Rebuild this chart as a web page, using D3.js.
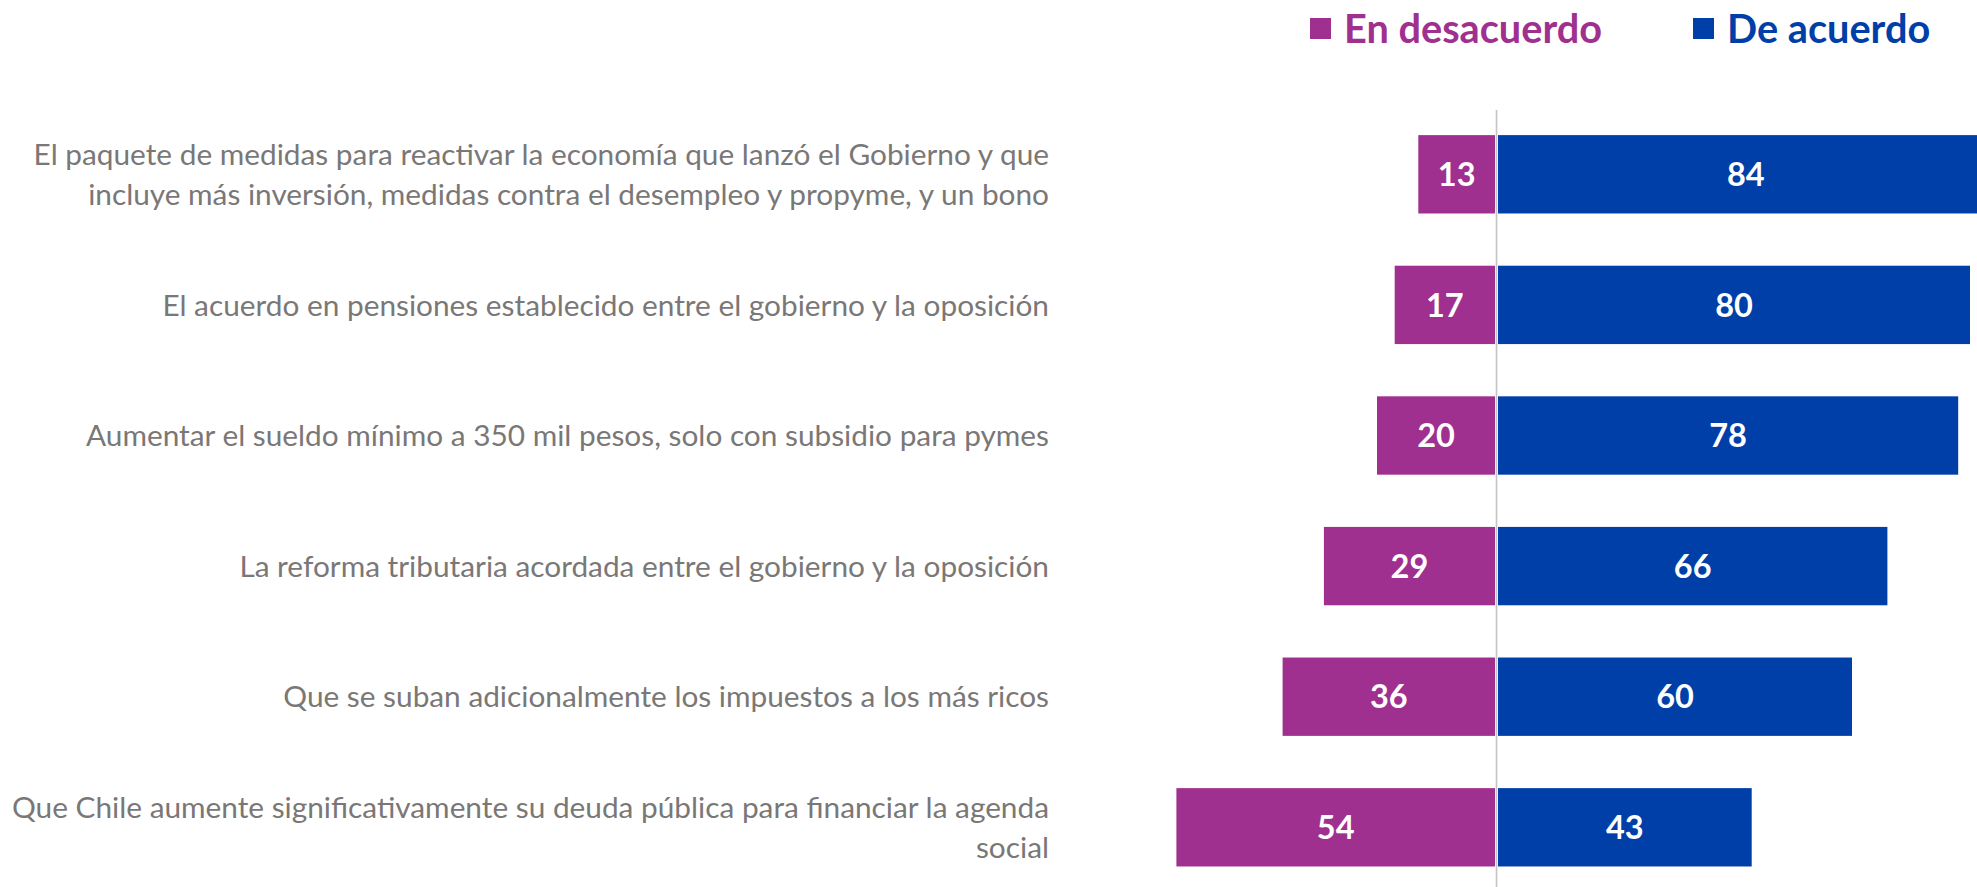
<!DOCTYPE html>
<html>
<head>
<meta charset="utf-8">
<script src="https://cdn.jsdelivr.net/npm/d3@7"></script>
<style>
  html, body { margin: 0; padding: 0; background: #fff; overflow: hidden; }
  svg { display: block; }
</style>
</head>
<body>
<div id="chart"></div>
<script>
// data
const categories = [
  ["El paquete de medidas para reactivar la economía que lanzó el Gobierno y que",
   "incluye más inversión, medidas contra el desempleo y propyme, y un bono"],
  ["El acuerdo en pensiones establecido entre el gobierno y la oposición"],
  ["Aumentar el sueldo mínimo a 350 mil pesos, solo con subsidio para pymes"],
  ["La reforma tributaria acordada entre el gobierno y la oposición"],
  ["Que se suban adicionalmente los impuestos a los más ricos"],
  ["Que Chile aumente significativamente su deuda pública para financiar la agenda",
   "social"]
]
const desacuerdo = [13, 17, 20, 29, 36, 54]
const deAcuerdo = [84, 80, 78, 66, 60, 43]
const seriesNames = ["En desacuerdo", "De acuerdo"]
const seriesColors = ["#a0308f", "#003fa8"]

const W = 1977, H = 887
const axisX = 1496.5
const unit = 5.9   // px per percentage point

const svg = d3.select("#chart").append("svg")
    .attr("width", W)
    .attr("height", H)

const rows = d3.range(categories.length)

const y = d3.scaleBand()
    .domain(rows)
    .range([109, 892.6])
    .paddingInner(0.4)
    .paddingOuter(0.2)

const xLeft = d3.scaleLinear().domain([0, 100]).range([axisX - 1.5, axisX - 1.5 - 100 * unit])
const xRight = d3.scaleLinear().domain([0, 100]).range([axisX + 1.5, axisX + 1.5 + 100 * unit])

// bars
svg.selectAll("rect.neg")
    .data(rows)
    .join("rect")
    .attr("class", "neg")
    .attr("x", i => xLeft(desacuerdo[i]))
    .attr("y", i => y(i))
    .attr("width", i => xLeft(0) - xLeft(desacuerdo[i]))
    .attr("height", y.bandwidth())
    .attr("fill", seriesColors[0])

svg.selectAll("rect.pos")
    .data(rows)
    .join("rect")
    .attr("class", "pos")
    .attr("x", xRight(0))
    .attr("y", i => y(i))
    .attr("width", i => xRight(deAcuerdo[i]) - xRight(0))
    .attr("height", y.bandwidth())
    .attr("fill", seriesColors[1])

// center line
svg.append("line")
    .attr("x1", axisX).attr("x2", axisX)
    .attr("y1", 110).attr("y2", H)
    .attr("stroke", "#c4c4c4")
    .attr("stroke-width", 1.6)

// value labels
const valFont = "Lato, 'Open Sans', sans-serif"
svg.selectAll("text.vneg")
    .data(rows)
    .join("text")
    .attr("class", "vneg")
    .attr("x", i => (xLeft(desacuerdo[i]) + xLeft(0)) / 2)
    .attr("y", i => y(i) + y.bandwidth() / 2)
    .attr("dy", "0.36em")
    .attr("text-anchor", "middle")
    .attr("fill", "#fff")
    .attr("font-family", valFont)
    .attr("font-weight", 700)
    .attr("font-size", 32.5)
    .text(i => desacuerdo[i])

svg.selectAll("text.vpos")
    .data(rows)
    .join("text")
    .attr("class", "vpos")
    .attr("x", i => (xRight(deAcuerdo[i]) + xRight(0)) / 2)
    .attr("y", i => y(i) + y.bandwidth() / 2)
    .attr("dy", "0.36em")
    .attr("text-anchor", "middle")
    .attr("fill", "#fff")
    .attr("font-family", valFont)
    .attr("font-weight", 700)
    .attr("font-size", 32.5)
    .text(i => deAcuerdo[i])

// category labels, right aligned
const lineH = 40
const labels = svg.selectAll("text.cat")
    .data(rows)
    .join("text")
    .attr("class", "cat")
    .attr("text-anchor", "end")
    .attr("fill", "#7a7777")
    .attr("font-family", "Lato, 'Open Sans', sans-serif")
    .attr("font-size", 29.8)

labels.each(function(i) {
  const lines = categories[i]
  const cy = y(i) + y.bandwidth() / 2
  const top = cy - (lines.length - 1) * lineH / 2
  d3.select(this).selectAll("tspan")
    .data(lines)
    .join("tspan")
    .attr("x", 1049)
    .attr("y", (d, k) => top + k * lineH)
    .attr("dy", "0.36em")
    .text(d => d)
})

// legend
const legendX = [1310, 1693]
const legend = svg.selectAll("g.legend")
    .data(seriesNames)
    .join("g")
    .attr("class", "legend")
    .attr("transform", (d, k) => `translate(${legendX[k]},0)`)

legend.append("rect")
    .attr("x", 0)
    .attr("y", 18)
    .attr("width", 21)
    .attr("height", 21)
    .attr("fill", (d, k) => seriesColors[k])

legend.append("text")
    .attr("x", 34)
    .attr("y", 29)
    .attr("dy", "0.36em")
    .attr("fill", (d, k) => seriesColors[k])
    .attr("font-family", "Lato, 'Open Sans', sans-serif")
    .attr("font-weight", 700)
    .attr("font-size", 39.7)
    .text(d => d)
</script>
</body>
</html>
